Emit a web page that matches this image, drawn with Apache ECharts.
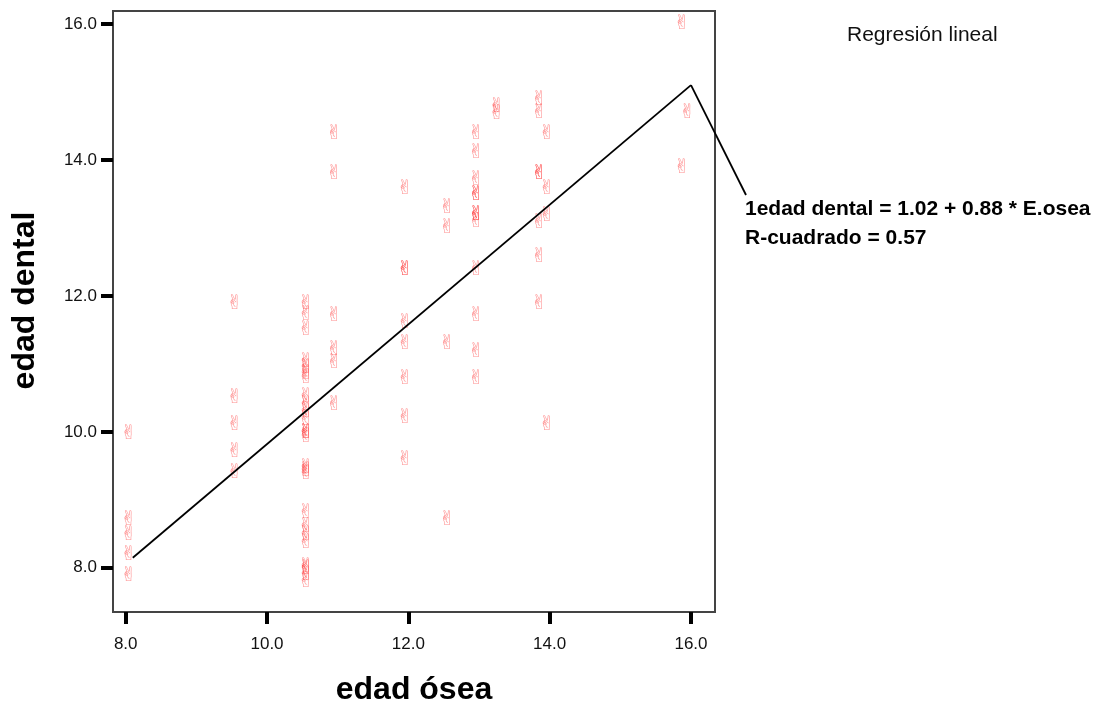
<!DOCTYPE html>
<html>
<head>
<meta charset="utf-8">
<script src="https://cdn.jsdelivr.net/npm/echarts@6/dist/echarts.min.js"></script>
<style>
  html, body { margin: 0; padding: 0; background: #fff; }
  #chart { width: 1098px; height: 707px; }
</style>
</head>
<body>
<div id="chart"></div>
<script>
// Bone age (x) and dental age (y) per child, in years
const edadOsea = [
  8.04, 8.04, 8.04, 8.04, 8.04,
  9.54, 9.54, 9.54, 9.54, 9.54,
  10.55, 10.55, 10.55, 10.55, 10.55, 10.55, 10.55, 10.55, 10.55, 10.55, 10.55, 10.55, 10.55,
  10.55, 10.55, 10.55, 10.55, 10.55, 10.55, 10.55, 10.55, 10.55, 10.55, 10.55, 10.55,
  10.95, 10.95, 10.95, 10.95, 10.95, 10.95,
  11.95, 11.95, 11.95, 11.95, 11.95, 11.95, 11.95, 11.95,
  12.55, 12.55, 12.55, 12.55,
  12.96, 12.96, 12.96, 12.96, 12.96, 12.96, 12.96, 12.96, 12.96, 12.96, 12.96, 12.96,
  13.25, 13.25,
  13.85, 13.85, 13.85, 13.85, 13.85, 13.85, 13.85,
  13.96, 13.96, 13.96, 13.96,
  15.87, 15.87,
  15.95
];
const edadDental = [
  9.97, 8.70, 8.49, 8.19, 7.88,
  11.88, 10.50, 10.10, 9.71, 9.40,
  11.89, 11.72, 11.50, 11.03, 10.94, 10.86, 10.79, 10.52, 10.40, 10.30, 10.18, 9.98, 9.98,
  9.93, 9.47, 9.42, 9.39, 8.81, 8.60, 8.49, 8.37, 8.02, 7.98, 7.90, 7.80,
  14.39, 13.80, 11.70, 11.21, 11.01, 10.40,
  13.57, 12.38, 12.38, 11.60, 11.29, 10.78, 10.20, 9.59,
  13.29, 13.00, 11.29, 8.71,
  14.39, 14.11, 13.71, 13.49, 13.49, 13.19, 13.19, 13.09, 12.38, 11.71, 11.18, 10.78,
  14.78, 14.68,
  14.89, 14.69, 13.80, 13.80, 13.08, 12.58, 11.88,
  14.38, 13.57, 13.18, 10.10,
  16.00, 13.89,
  14.70
];

// Linear fit as stated in the annotation
const fitIntercept = 1.02;
const fitSlope = 0.88;
const rSquared = 0.57;
const fitRange = [8.1, 16.0];

// Tick values on both axes
const xTicks = [8, 10, 12, 14, 16];
const yTicks = [8, 10, 12, 14, 16];

const points = edadOsea.map((x, i) => [x, edadDental[i]]);
const fitLine = fitRange.map(x => [x, fitIntercept + fitSlope * x]);
const fitEnd = fitLine[fitLine.length - 1];

const FONT = '"Liberation Sans", Arial, sans-serif';
const chart = echarts.init(document.getElementById('chart'), null, { renderer: 'canvas' });

const axisCommon = {
  type: 'value',
  axisLine: { show: false },
  splitLine: { show: false },
  axisTick: { show: true, inside: false, length: 12, lineStyle: { color: '#000', width: 4 } },
  axisLabel: {
    color: '#111', fontFamily: FONT, fontSize: 17,
    formatter: v => v.toFixed(1)
  },
  nameTextStyle: { color: '#000', fontFamily: FONT, fontWeight: 'bold', fontSize: 32 },
  nameLocation: 'middle'
};

chart.setOption({
  animation: false,
  backgroundColor: '#fff',
  grid: {
    left: 113, top: 11, right: 383, bottom: 95,
    outerBoundsMode: 'none', containLabel: false,
    show: true, borderColor: '#444', borderWidth: 2, backgroundColor: '#fff'
  },
  xAxis: Object.assign({}, axisCommon, {
    min: 7.82, max: 16.34,
    name: 'edad ósea', nameGap: 62,
    axisTick: Object.assign({}, axisCommon.axisTick, { customValues: xTicks }),
    axisLabel: Object.assign({}, axisCommon.axisLabel, { customValues: xTicks, margin: 24 })
  }),
  yAxis: Object.assign({}, axisCommon, {
    min: 7.35, max: 16.19,
    name: 'edad dental', nameGap: 72,
    nameTextStyle: Object.assign({}, axisCommon.nameTextStyle, { padding: [0, 0, 0, 22] }),
    axisTick: Object.assign({}, axisCommon.axisTick, { customValues: yTicks }),
    axisLabel: Object.assign({}, axisCommon.axisLabel, { customValues: yTicks, margin: 16 })
  }),
  series: [
    {
      type: 'scatter',
      data: points,
      symbolSize: 1,
      itemStyle: { color: 'transparent' },
      label: {
        show: true, position: 'inside', formatter: '\u270C',
        fontFamily: 'DejaVu Sans', fontSize: 20,
        color: 'rgba(255, 40, 40, 0.65)'
      },
      z: 2
    },
    {
      type: 'line',
      data: fitLine,
      symbol: 'none',
      lineStyle: { color: '#000', width: 1.8 },
      z: 3
    }
  ],
  graphic: [
    {
      type: 'text', left: 847, top: 25,
      style: { text: 'Regresión lineal', fill: '#111', font: '21px ' + FONT }
    },
    {
      type: 'text', left: 745, top: 195,
      style: {
        text: '1edad dental = ' + fitIntercept.toFixed(2) + ' + ' + fitSlope.toFixed(2) +
              ' * E.osea\nR-cuadrado = ' + rSquared.toFixed(2),
        fill: '#000', lineHeight: 29,
        font: 'bold 21px ' + FONT
      }
    }
  ]
});

// Leader from the end of the fitted line to the equation callout
const start = chart.convertToPixel({ gridIndex: 0 }, fitEnd);
chart.setOption({
  graphic: [{
    type: 'line', id: 'leader', silent: true, z: 10,
    shape: { x1: start[0], y1: start[1], x2: 746, y2: 195 },
    style: { stroke: '#000', lineWidth: 1.8 }
  }]
});
</script>
</body>
</html>
